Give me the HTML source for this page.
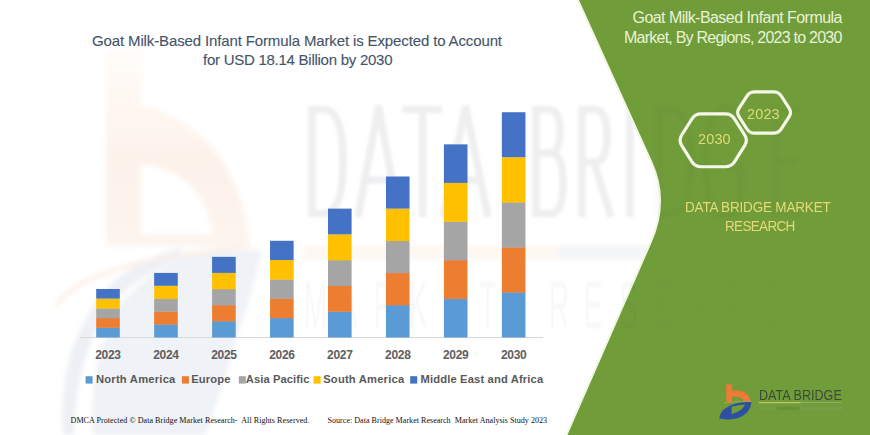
<!DOCTYPE html>
<html><head><meta charset="utf-8">
<style>
html,body{margin:0;padding:0;}
body{width:870px;height:435px;overflow:hidden;position:relative;background:#fff;font-family:"Liberation Sans",sans-serif;}
svg{position:absolute;left:0;top:0;}
.t{position:absolute;white-space:pre;line-height:1;}
.title{color:#44546a;font-size:15px;letter-spacing:-0.13px;-webkit-text-stroke:0.12px #44546a;}
.gt{color:#e8f3d6;font-size:16px;letter-spacing:-0.55px;}
.yr{color:#5e5e5e;font-size:12px;font-weight:bold;width:58px;text-align:center;letter-spacing:-0.3px;}
.lg{color:#595959;font-size:11.2px;font-weight:bold;}
.ft{font-family:"Liberation Serif",serif;font-size:8.1px;color:#111;}
.hx{color:#dedc74;font-size:15.5px;letter-spacing:0.2px;transform:scaleX(0.93);transform-origin:0 0;}
.dbm{color:#e6d978;font-size:15px;letter-spacing:-0.2px;transform:scaleX(0.9);transform-origin:0 0;}
</style></head>
<body>
<svg width="870" height="435" viewBox="0 0 870 435">
  <!-- watermark logo b -->
  <defs>
    <linearGradient id="wb" x1="0" y1="0" x2="0" y2="1">
      <stop offset="0" stop-color="#fffcf9"/>
      <stop offset="0.55" stop-color="#fdf2ea"/>
      <stop offset="1" stop-color="#fdf4ee"/>
    </linearGradient>
    <filter id="bl" x="-10%" y="-10%" width="120%" height="120%"><feGaussianBlur stdDeviation="1.5"/></filter>
    <filter id="bl2" x="-10%" y="-10%" width="120%" height="120%"><feGaussianBlur stdDeviation="2.5"/></filter>
  </defs>
  <g filter="url(#bl2)">
    
    <path fill="#edf0f5" d="M63 435 Q56 345 110 285 Q140 258 180 248 L186 256 Q140 275 115 300 Q76 350 74 435 Z"/>
    <path fill="#eff2f6" d="M93 435 Q88 360 120 305 Q150 268 200 252 L262 250 Q250 300 236 340 Q222 390 205 435 Z"/>
    <path fill="none" stroke="#fcefe6" stroke-width="4" d="M56 306 Q70 285 104 274 Q140 258 250 246"/>
    <path fill="url(#wb)" fill-rule="evenodd" d="M106 50 L141 50 L141 105 Q180 112 215 150 Q245 190 250 246 L106 246 Z M141 164 Q178 168 198 195 Q210 212 213 234 L141 234 Z"/>
  </g>
  <g id="wmtext" fill="none" stroke="#efeff1" stroke-width="7.5" filter="url(#bl)">
    <path d="M312 106 L312 217 M312 109.5 L324 109.5 Q343 109.5 343 161.5 Q343 213.5 324 213.5 L312 213.5"/>
    <path d="M358 217 L378.5 106 L399 217 M365 180 L392 180"/>
    <path d="M402 109.5 L442 109.5 M422.5 106 L422.5 217"/>
    <path d="M443 217 L465.5 106 L488 217 M451 180 L480 180"/>
    <path d="M536 106 L536 217 M536 109.5 L549 109.5 Q560 109.5 560 131 Q560 153 549 153 L536 153 M536 153 L551 153 Q563 153 563 183 Q563 213.5 551 213.5 L536 213.5"/>
    <path d="M582 217 L582 106 M582 109.5 L595 109.5 Q607 109.5 607 136 Q607 162 595 162 L582 162 M594 162 L611 217"/>
    <path d="M630 106 L630 217"/>
  </g>
  <g filter="url(#bl2)"><rect x="303" y="245" width="256" height="15" fill="#fef8f3"/>
  <rect x="559" y="245" width="100" height="15" fill="#f4f5f8"/></g>
  <!-- green panel -->
  <path d="M579 0 L652.4 162 Q670 200.8 651.9 242 L567.5 435" fill="none" stroke="#f1f8e2" stroke-width="4"/>
  <path d="M579 0 L870 0 L870 435 L567.5 435 L651.9 242 Q670 200.8 652.4 162 Z" fill="#719c3a"/>
  <g fill="none" stroke="#000" stroke-opacity="0.02" stroke-width="7.5" filter="url(#bl)">
    <path d="M659 106 L659 217 M659 109.5 L671 109.5 Q691 109.5 691 161.5 Q691 213.5 671 213.5 L659 213.5"/>
    <path d="M741 125 Q736 108 724 108 Q706 108 706 162 Q706 216 724 216 Q741 216 741 190 L741 168 L726 168"/>
    <path d="M800 109.5 L775 109.5 L775 213.5 L800 213.5 M775 161 L797 161"/>
  </g>
  <g transform="scale(0.42,1)" font-family="Liberation Sans" font-size="66" fill="#000" filter="url(#bl)"><g fill-opacity="0.026"><text x="723.8" y="328">M</text><text x="807.1" y="328">A</text><text x="890.5" y="328">R</text><text x="973.8" y="328">K</text><text x="1057.1" y="328">E</text><text x="1140.5" y="328">T</text><text x="1307.1" y="328">R</text><text x="1390.5" y="328">E</text><text x="1473.8" y="328">S</text></g><g fill-opacity="0.008"><text x="1557.1" y="328">E</text><text x="1640.5" y="328">A</text><text x="1723.8" y="328">R</text><text x="1807.1" y="328">C</text><text x="1890.5" y="328">H</text></g></g>
  <!-- axis -->
  <rect x="80" y="337" width="463" height="1" fill="#d9d9d9"/>
  <g id="bars"><rect x="96.20" y="327.56" width="23.6" height="9.94" fill="#5b9bd5"/><rect x="96.20" y="317.92" width="23.6" height="9.94" fill="#ed7d31"/><rect x="96.20" y="308.27" width="23.6" height="9.94" fill="#a5a5a5"/><rect x="96.20" y="298.63" width="23.6" height="9.94" fill="#ffc000"/><rect x="96.20" y="288.99" width="23.6" height="9.64" fill="#4472c4"/><rect x="154.15" y="324.34" width="23.6" height="13.16" fill="#5b9bd5"/><rect x="154.15" y="311.49" width="23.6" height="13.16" fill="#ed7d31"/><rect x="154.15" y="298.63" width="23.6" height="13.16" fill="#a5a5a5"/><rect x="154.15" y="285.78" width="23.6" height="13.16" fill="#ffc000"/><rect x="154.15" y="272.92" width="23.6" height="12.86" fill="#4472c4"/><rect x="212.10" y="321.13" width="23.6" height="16.37" fill="#5b9bd5"/><rect x="212.10" y="305.06" width="23.6" height="16.37" fill="#ed7d31"/><rect x="212.10" y="288.99" width="23.6" height="16.37" fill="#a5a5a5"/><rect x="212.10" y="272.92" width="23.6" height="16.37" fill="#ffc000"/><rect x="212.10" y="256.85" width="23.6" height="16.07" fill="#4472c4"/><rect x="270.05" y="317.92" width="23.6" height="19.58" fill="#5b9bd5"/><rect x="270.05" y="298.63" width="23.6" height="19.58" fill="#ed7d31"/><rect x="270.05" y="279.35" width="23.6" height="19.58" fill="#a5a5a5"/><rect x="270.05" y="260.06" width="23.6" height="19.58" fill="#ffc000"/><rect x="270.05" y="240.78" width="23.6" height="19.28" fill="#4472c4"/><rect x="328.00" y="311.49" width="23.6" height="26.01" fill="#5b9bd5"/><rect x="328.00" y="285.78" width="23.6" height="26.01" fill="#ed7d31"/><rect x="328.00" y="260.06" width="23.6" height="26.01" fill="#a5a5a5"/><rect x="328.00" y="234.35" width="23.6" height="26.01" fill="#ffc000"/><rect x="328.00" y="208.64" width="23.6" height="25.71" fill="#4472c4"/><rect x="385.95" y="305.06" width="23.6" height="32.44" fill="#5b9bd5"/><rect x="385.95" y="272.92" width="23.6" height="32.44" fill="#ed7d31"/><rect x="385.95" y="240.78" width="23.6" height="32.44" fill="#a5a5a5"/><rect x="385.95" y="208.64" width="23.6" height="32.44" fill="#ffc000"/><rect x="385.95" y="176.50" width="23.6" height="32.14" fill="#4472c4"/><rect x="443.90" y="298.63" width="23.6" height="38.87" fill="#5b9bd5"/><rect x="443.90" y="260.06" width="23.6" height="38.87" fill="#ed7d31"/><rect x="443.90" y="221.50" width="23.6" height="38.87" fill="#a5a5a5"/><rect x="443.90" y="182.93" width="23.6" height="38.87" fill="#ffc000"/><rect x="443.90" y="144.36" width="23.6" height="38.57" fill="#4472c4"/><rect x="501.85" y="292.20" width="23.6" height="45.30" fill="#5b9bd5"/><rect x="501.85" y="247.21" width="23.6" height="45.30" fill="#ed7d31"/><rect x="501.85" y="202.21" width="23.6" height="45.30" fill="#a5a5a5"/><rect x="501.85" y="157.22" width="23.6" height="45.30" fill="#ffc000"/><rect x="501.85" y="112.22" width="23.6" height="45.00" fill="#4472c4"/></g>
  <rect x="85.6" y="376.2" width="7" height="7.4" fill="#5b9bd5"/><rect x="181.9" y="376.2" width="7" height="7.4" fill="#ed7d31"/><rect x="238.8" y="376.2" width="7" height="7.4" fill="#a5a5a5"/><rect x="313.6" y="376.2" width="7" height="7.4" fill="#ffc000"/><rect x="410.2" y="376.2" width="7" height="7.4" fill="#4472c4"/>
  <!-- hexagons -->
  <g fill="none" stroke="#f5f8e8" stroke-width="3.2">
    <path d="M701.00 113.95 L725.40 113.95 Q731.40 113.95 734.59 119.03 L744.81 135.27 Q748.00 140.35 744.81 145.43 L734.59 161.67 Q731.40 166.75 725.40 166.75 L701.00 166.75 Q695.00 166.75 691.81 161.67 L681.59 145.43 Q678.40 140.35 681.59 135.27 L691.81 119.03 Q695.00 113.95 701.00 113.95 Z"/>
    <path d="M754.60 91.80 L773.60 91.80 Q778.60 91.80 781.30 96.01 L789.20 108.29 Q791.90 112.50 789.20 116.71 L781.30 128.99 Q778.60 133.20 773.60 133.20 L754.60 133.20 Q749.60 133.20 746.90 128.99 L739.00 116.71 Q736.30 112.50 739.00 108.29 L746.90 96.01 Q749.60 91.80 754.60 91.80 Z"/>
  </g>
  <!-- logo -->
  <g>
    <path d="M726.3 384.3 L732.1 384.3 L732.1 390.6 Q748.5 389 750.6 401.2 L744.3 401.2 Q742.3 396.2 732.1 396.4 L732.1 402 L726.3 402 Z" fill="#ee7a35"/>
    <path fill-rule="evenodd" fill="#2f4fa0" d="M719.2 418.6 Q720.5 408 734 404 Q743 401.6 751.6 402.2 Q750.5 413 738.5 418 Q731 420.6 719.2 418.6 Z M731.6 406.8 Q739 404.8 745.2 404.6 Q742 411.5 731.6 414.2 Z"/>
    <path d="M724 403.2 Q736 400.6 751 401.3" fill="none" stroke="#c9b04a" stroke-width="0.9" opacity="0.6"/>
    <rect x="758.8" y="402" width="42" height="1.2" fill="#c9c166"/>
    <rect x="800.8" y="402" width="41" height="1" fill="#8faa70"/>
    <rect x="759" y="406.5" width="17" height="3.5" fill="#73a046" opacity="0.8"/>
    <rect x="777" y="406.5" width="22" height="3.5" fill="#65903c" opacity="0.8"/>
    <rect x="800" y="406.5" width="43" height="3.5" fill="#77a24c" opacity="0.6"/>
  </g>
</svg>
<div class="t title" style="left:92px;top:33px;">Goat Milk-Based Infant Formula Market is Expected to Account</div>
<div class="t title" style="left:203px;top:52px;letter-spacing:-0.26px;">for USD 18.14 Billion by 2030</div>
<div class="t gt" style="left:632.5px;top:10px;">Goat Milk-Based Infant Formula</div>
<div class="t gt" style="left:624px;top:30px;letter-spacing:-0.76px;">Market, By Regions, 2023 to 2030</div>
<div class="t hx" style="left:698px;top:131.3px;">2030</div>
<div class="t hx" style="left:746.5px;top:105.6px;">2023</div>
<div class="t dbm" style="left:684.5px;top:198.8px;">DATA BRIDGE MARKET</div>
<div class="t dbm" style="left:724.5px;top:217.6px;letter-spacing:-0.75px;">RESEARCH</div>
<div class="t" style="left:759px;top:388px;font-size:14.4px;color:#3c4c33;transform:scaleX(0.875);transform-origin:0 0;">DATA BRIDGE</div>
<div class="t yr" style="left:79.0px;top:349px;">2023</div>
<div class="t yr" style="left:136.9px;top:349px;">2024</div>
<div class="t yr" style="left:194.9px;top:349px;">2025</div>
<div class="t yr" style="left:252.9px;top:349px;">2026</div>
<div class="t yr" style="left:310.8px;top:349px;">2027</div>
<div class="t yr" style="left:368.8px;top:349px;">2028</div>
<div class="t yr" style="left:426.7px;top:349px;">2029</div>
<div class="t yr" style="left:484.7px;top:349px;">2030</div>

<div class="t lg" style="left:96px;top:374px;letter-spacing:0.22px;">North America</div>
<div class="t lg" style="left:191.2px;top:374px;letter-spacing:0.15px;">Europe</div>
<div class="t lg" style="left:245.8px;top:374px;letter-spacing:0.08px;">Asia Pacific</div>
<div class="t lg" style="left:323.2px;top:374px;letter-spacing:0.2px;">South America</div>
<div class="t lg" style="left:420.6px;top:374px;letter-spacing:0.14px;">Middle East and Africa</div>
<div class="t ft" style="left:70.5px;top:417px;letter-spacing:0.03px;">DMCA Protected © Data Bridge Market Research-  All Rights Reserved.</div>
<div class="t ft" style="left:327.5px;top:417px;">Source: Data Bridge Market Research  Market Analysis Study 2023</div>
</body></html>
